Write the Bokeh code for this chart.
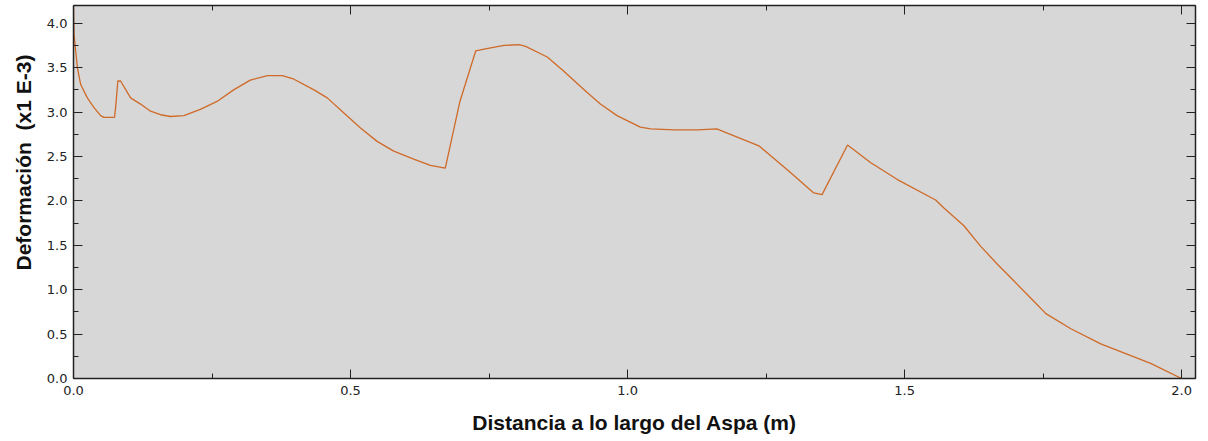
from bokeh.plotting import figure
from bokeh.models import Range1d, LinearAxis, SingleIntervalTicker, Title, ColumnDataSource, CustomJSTickFormatter
from bokeh.embed import file_html
from bokeh.resources import INLINE

# Distance along the blade (m)
distancia = [0.000, 0.001, 0.007, 0.013, 0.025, 0.037, 0.049, 0.055, 0.074, 0.076,
             0.080, 0.085, 0.103, 0.121, 0.139, 0.157, 0.175, 0.199, 0.229, 0.259,
             0.289, 0.319, 0.350, 0.377, 0.398, 0.434, 0.458, 0.488, 0.518, 0.548,
             0.578, 0.614, 0.644, 0.671, 0.697, 0.726, 0.741, 0.777, 0.804, 0.816,
             0.855, 0.885, 0.927, 0.951, 0.981, 1.023, 1.042, 1.084, 1.126, 1.161,
             1.237, 1.294, 1.336, 1.351, 1.397, 1.439, 1.487, 1.556, 1.571, 1.607,
             1.637, 1.667, 1.697, 1.727, 1.755, 1.800, 1.854, 1.944, 2.000]
# Deformation (x1 E-3)
deformacion = [4.20, 3.87, 3.50, 3.31, 3.16, 3.05, 2.96, 2.94, 2.94, 3.05,
               3.35, 3.35, 3.16, 3.09, 3.01, 2.97, 2.95, 2.96, 3.03, 3.12,
               3.25, 3.36, 3.41, 3.41, 3.37, 3.25, 3.16, 2.99, 2.82, 2.67,
               2.56, 2.47, 2.40, 2.37, 3.11, 3.69, 3.71, 3.75, 3.76, 3.74,
               3.62, 3.46, 3.22, 3.09, 2.96, 2.83, 2.81, 2.80, 2.80, 2.81,
               2.62, 2.32, 2.09, 2.07, 2.63, 2.43, 2.24, 2.01, 1.92, 1.72,
               1.49, 1.29, 1.10, 0.91, 0.73, 0.56, 0.39, 0.17, 0.00]

x_label = "Distancia a lo largo del Aspa (m)"
y_label = "Deformación\u00a0 (x1 E-3)"

src = ColumnDataSource(dict(x=distancia, y=deformacion))

p = figure(width=1208, height=441, output_backend="svg", toolbar_location=None,
           x_range=Range1d(0, 2.025), y_range=Range1d(0, 4.2),
           min_border_left=73, min_border_right=13, min_border_top=5, min_border_bottom=63,
           background_fill_color="#d7d7d7", border_fill_color="white",
           outline_line_color="#222222", outline_line_width=1)
p.grid.visible = False

p.line("x", "y", source=src, line_color="#cf6a28", line_width=1.3)

def style_axis(ax, show_labels):
    ax.ticker = SingleIntervalTicker(interval=0.5, num_minor_ticks=2)
    ax.major_tick_in = 9
    ax.major_tick_out = 0
    ax.minor_tick_in = 5
    ax.minor_tick_out = 0
    ax.major_tick_line_color = "#222222"
    ax.minor_tick_line_color = "#222222"
    ax.axis_line_color = "#222222"
    ax.axis_line_width = 1.5
    ax.major_label_text_font = "DejaVu Sans"
    ax.major_label_text_font_size = "13px"
    ax.major_label_text_color = "#222222"
    if show_labels:
        ax.formatter = CustomJSTickFormatter(code="return tick.toFixed(1);")
    else:
        ax.formatter = CustomJSTickFormatter(code="return '';")
        ax.major_label_standoff = 0

xa = p.xaxis[0]
style_axis(xa, True)
xa.major_label_standoff = 7
xa.axis_label = x_label
xa.axis_label_text_font = "Liberation Sans"
xa.axis_label_text_font_style = "bold"
xa.axis_label_text_font_size = "21px"
xa.axis_label_text_color = "#111111"
xa.axis_label_standoff = 13

ya = p.yaxis[0]
style_axis(ya, True)
ya.major_label_standoff = 6

top = LinearAxis()
style_axis(top, False)
p.add_layout(top, "above")
right = LinearAxis()
style_axis(right, False)
p.add_layout(right, "right")

t = Title(text=y_label, align="left", text_font="Liberation Sans", text_font_style="bold",
          text_font_size="21px", text_color="#111111", offset=108, standoff=17)
p.add_layout(t, "left")

open("out.html", "w").write(file_html(p, INLINE))
